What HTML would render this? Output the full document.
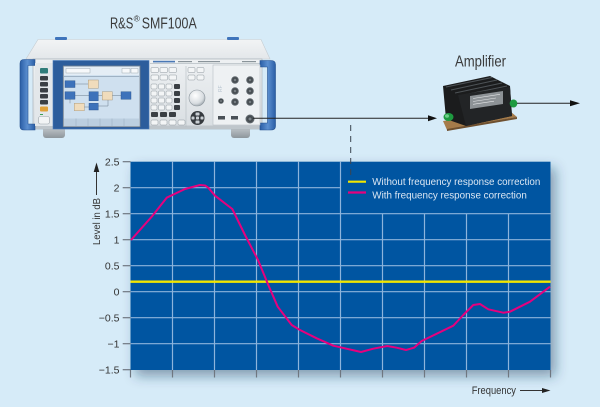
<!DOCTYPE html>
<html>
<head>
<meta charset="utf-8">
<style>
  html,body{margin:0;padding:0;background:#d6ebf8;}
  svg{display:block;}
  text{font-family:"Liberation Sans", Arial, sans-serif;}
</style>
</head>
<body>
<svg width="600" height="407" viewBox="0 0 600 407" xmlns="http://www.w3.org/2000/svg">
  <defs>
    <filter id="sh" x="-10%" y="-10%" width="125%" height="130%">
      <feDropShadow dx="5" dy="6" stdDeviation="6" flood-color="#1b3a5a" flood-opacity="0.45"/>
    </filter>
    <linearGradient id="topg" x1="0" y1="0" x2="0" y2="1">
      <stop offset="0" stop-color="#f2f4f5"/>
      <stop offset="1" stop-color="#e3e7ea"/>
    </linearGradient>
    <linearGradient id="frontg" x1="0" y1="0" x2="0" y2="1">
      <stop offset="0" stop-color="#eef1f3"/>
      <stop offset="1" stop-color="#d9dee2"/>
    </linearGradient>
    <linearGradient id="handleg" x1="0" y1="0" x2="1" y2="0">
      <stop offset="0" stop-color="#2a5ea6"/>
      <stop offset="0.5" stop-color="#5b8fd0"/>
      <stop offset="1" stop-color="#2a5ea6"/>
    </linearGradient>
    <linearGradient id="footg" x1="0" y1="0" x2="0" y2="1">
      <stop offset="0" stop-color="#c8cdd1"/>
      <stop offset="1" stop-color="#8e969c"/>
    </linearGradient>
    <radialGradient id="knobg" cx="0.4" cy="0.35" r="0.7">
      <stop offset="0" stop-color="#ffffff"/>
      <stop offset="0.7" stop-color="#d8dde1"/>
      <stop offset="1" stop-color="#9aa3aa"/>
    </radialGradient>
    <radialGradient id="conng" cx="0.5" cy="0.5" r="0.5">
      <stop offset="0" stop-color="#9aa2a8"/>
      <stop offset="0.5" stop-color="#3e4448"/>
      <stop offset="1" stop-color="#6a7278"/>
    </radialGradient>
  </defs>

  <!-- background -->
  <rect x="0" y="0" width="600" height="407" fill="#d6ebf8"/>

  <!-- Title -->
  <text x="110" y="28.3" font-size="16" fill="#3a3a3a" textLength="23.3" lengthAdjust="spacingAndGlyphs">R&amp;S</text>
  <text x="133.6" y="21.5" font-size="8.5" fill="#3a3a3a">®</text>
  <text x="141.7" y="28.3" font-size="16" fill="#3a3a3a" textLength="55" lengthAdjust="spacingAndGlyphs">SMF100A</text>

  <!-- Instrument -->
  <!-- top surface -->
  <polygon points="38,39.5 261,39.5 270,59 26,59" fill="url(#topg)" stroke="#c5ccd1" stroke-width="0.6"/>
  <rect x="55" y="37" width="12" height="3" rx="1" fill="#3f74bb"/>
  <rect x="227" y="37" width="12" height="3" rx="1" fill="#3f74bb"/>
  <!-- feet -->
  <rect x="43" y="126" width="22" height="12" rx="3" fill="url(#footg)"/>
  <rect x="231" y="126" width="19" height="12" rx="3" fill="url(#footg)"/>
  <!-- front panel -->
  <rect x="33" y="59" width="229" height="70" fill="url(#frontg)" stroke="#a9b2b8" stroke-width="0.7"/>
  <rect x="33" y="125.5" width="229" height="3.5" fill="#bfc6cb"/>
  <line x1="150" y1="63.5" x2="260" y2="63.5" stroke="#9aa4ab" stroke-width="0.6"/>
  <rect x="153" y="60.8" width="22" height="1.6" fill="#4a78b5"/>
  <rect x="178" y="61" width="14" height="1.2" fill="#8a949a"/>
  <rect x="198" y="61" width="22" height="1.2" fill="#8a949a"/>
  <rect x="242" y="61" width="14" height="1.2" fill="#8a949a"/>
  <!-- left handle -->
  <path d="M35,59.5 L24,59.5 Q20,59.5 20,63.5 L20,126 Q20,130 24,130 L35,130 L35,124 L28,124 L28,65.5 L35,65.5 Z" fill="url(#handleg)" stroke="#24508e" stroke-width="0.6"/>
  <!-- right handle -->
  <path d="M260,60.5 L271,60.5 Q275.5,60.5 275.5,64.5 L275.5,126 Q275.5,130 271,130 L260,130 L260,123 L267.5,123 L267.5,67 L260,67 Z" fill="url(#handleg)" stroke="#24508e" stroke-width="0.6"/>
  <!-- left key column -->
  <rect x="35" y="63" width="18" height="63" fill="#e3e7ea"/>
  <rect x="40" y="68" width="8" height="5.5" rx="1" fill="#2f7c7a"/>
  <rect x="40" y="76" width="8" height="4.5" rx="1" fill="#3a3f44"/>
  <rect x="40" y="82" width="8" height="4.5" rx="1" fill="#3a3f44"/>
  <rect x="40" y="88" width="8" height="4.5" rx="1" fill="#3a3f44"/>
  <rect x="40" y="94" width="8" height="4.5" rx="1" fill="#3a3f44"/>
  <rect x="40" y="100" width="8" height="4.5" rx="1" fill="#3a3f44"/>
  <rect x="40" y="106.5" width="8" height="5" rx="1" fill="#e0a23a"/>
  <rect x="38.5" y="116.5" width="11" height="7.5" rx="2" fill="#f2f4f5" stroke="#9aa3a9" stroke-width="0.6"/>
  <rect x="40" y="114" width="3" height="1" fill="#3aa055"/>
  <!-- bezel -->
  <rect x="53" y="60.5" width="96" height="68.5" fill="#2c5d9c" stroke="#4a7cbc" stroke-width="0.6"/>
  <!-- screen -->
  <rect x="63.3" y="66" width="76.7" height="60.7" fill="#cfe0ef" stroke="#77838e" stroke-width="0.8"/>
  <rect x="64" y="67" width="75" height="8" fill="#e4edf5"/>
  <rect x="66" y="68.5" width="24" height="4.5" fill="#f6f8fa" stroke="#8c98a3" stroke-width="0.4"/>
  <rect x="122" y="68.5" width="8" height="4.5" fill="#f6f8fa" stroke="#8c98a3" stroke-width="0.4"/>
  <rect x="131" y="68.5" width="7" height="4.5" fill="#f6f8fa" stroke="#8c98a3" stroke-width="0.4"/>
  <rect x="64" y="76" width="75" height="1" fill="#9fb2c4"/>
  <g stroke="#6a7c8e" stroke-width="0.5" fill="none">
    <path d="M75,84 H88 M75,95.5 H89 M98.3,95.5 H102.3 M112.3,95.5 H121 M70,99.3 V103.3 M84.3,107 H89 M98.3,106 H108 V100"/>
  </g>
  <rect x="65" y="80.7" width="10" height="6.8" fill="#3d72ba" stroke="#244f88" stroke-width="0.4"/>
  <rect x="88.3" y="80" width="10" height="8.3" fill="#f0dcbc" stroke="#a08a68" stroke-width="0.4"/>
  <rect x="65" y="91.7" width="10" height="7.6" fill="#3d72ba" stroke="#244f88" stroke-width="0.4"/>
  <rect x="89" y="91.7" width="9.3" height="9" fill="#3d72ba" stroke="#244f88" stroke-width="0.4"/>
  <rect x="102.3" y="91.7" width="10" height="8.3" fill="#f0dcbc" stroke="#a08a68" stroke-width="0.4"/>
  <rect x="121" y="91.7" width="10" height="7.6" fill="#3d72ba" stroke="#244f88" stroke-width="0.4"/>
  <rect x="74.3" y="103.3" width="10" height="7.4" fill="#f0dcbc" stroke="#a08a68" stroke-width="0.4"/>
  <rect x="89" y="103.3" width="9.3" height="6.7" fill="#3d72ba" stroke="#244f88" stroke-width="0.4"/>
  <rect x="64" y="118.5" width="75" height="7.5" fill="#bccfe0"/>
  <g stroke="#8fa2b5" stroke-width="0.4">
    <line x1="76" y1="118.5" x2="76" y2="126"/><line x1="88" y1="118.5" x2="88" y2="126"/>
    <line x1="100" y1="118.5" x2="100" y2="126"/><line x1="112" y1="118.5" x2="112" y2="126"/>
    <line x1="124" y1="118.5" x2="124" y2="126"/>
  </g>
  <!-- keypad -->
  <g fill="#f3f5f6" stroke="#8f989f" stroke-width="0.5">
    <rect x="151" y="67.5" width="7.5" height="5" rx="1"/>
    <rect x="160" y="67.5" width="7.5" height="5" rx="1"/>
    <rect x="169" y="67.5" width="7.5" height="5" rx="1"/>
    <rect x="151" y="75" width="7.5" height="5" rx="1"/>
    <rect x="160" y="75" width="7.5" height="5" rx="1"/>
    <rect x="169" y="75" width="7.5" height="5" rx="1"/>
    <rect x="151" y="84" width="6" height="5" rx="1"/>
    <rect x="158.5" y="84" width="6" height="5" rx="1"/>
    <rect x="166" y="84" width="6" height="5" rx="1"/>
    <rect x="151" y="91" width="6" height="5" rx="1"/>
    <rect x="158.5" y="91" width="6" height="5" rx="1"/>
    <rect x="166" y="91" width="6" height="5" rx="1"/>
    <rect x="151" y="98" width="6" height="5" rx="1"/>
    <rect x="158.5" y="98" width="6" height="5" rx="1"/>
    <rect x="166" y="98" width="6" height="5" rx="1"/>
    <rect x="151" y="105" width="6" height="5" rx="1"/>
    <rect x="158.5" y="105" width="6" height="5" rx="1"/>
    <rect x="166" y="105" width="6" height="5" rx="1"/>
    <rect x="151" y="120" width="7" height="5" rx="1"/>
    <rect x="160" y="120" width="7" height="5" rx="1"/>
    <rect x="169" y="120" width="7" height="5" rx="1"/>
    <rect x="178" y="120" width="7" height="5" rx="1"/>
    <rect x="188" y="67.5" width="7" height="5" rx="1"/>
    <rect x="197" y="67.5" width="7" height="5" rx="1"/>
    <rect x="188" y="75" width="7" height="5" rx="1"/>
    <rect x="197" y="75" width="7" height="5" rx="1"/>
  </g>
  <g fill="#3a3f44">
    <rect x="174" y="84" width="6" height="5" rx="1"/>
    <rect x="174" y="91" width="6" height="5" rx="1"/>
    <rect x="174" y="98" width="6" height="5" rx="1"/>
    <rect x="174" y="105" width="6" height="5" rx="1"/>
    <rect x="151" y="112" width="7" height="5" rx="1"/>
    <rect x="160" y="112" width="7" height="5" rx="1"/>
    <rect x="169" y="112" width="7" height="5" rx="1"/>
  </g>
  <line x1="186" y1="66" x2="186" y2="127" stroke="#b4bcc2" stroke-width="0.6"/>
  <!-- knob -->
  <circle cx="197" cy="98" r="8" fill="url(#knobg)" stroke="#8a949c" stroke-width="0.6"/>
  <!-- nav cluster -->
  <circle cx="197.5" cy="118" r="7" fill="#353a3f"/>
  <g fill="#c9cfd4">
    <rect x="195.5" y="112.5" width="4" height="3" rx="0.8"/>
    <rect x="195.5" y="120.5" width="4" height="3" rx="0.8"/>
    <rect x="191.5" y="116.5" width="3" height="3" rx="0.8"/>
    <rect x="200.5" y="116.5" width="3" height="3" rx="0.8"/>
    <rect x="196" y="116.5" width="3" height="3" rx="0.8"/>
  </g>
  <!-- connector panel -->
  <rect x="213" y="65" width="47" height="60" fill="#eef1f3" stroke="#b7bfc5" stroke-width="0.6"/>
  <text x="222" y="92" font-size="5" fill="#b7c3cf" transform="rotate(-90 222 92)">RF</text>
  <circle cx="235" cy="80" r="3.8" fill="url(#conng)"/>
  <circle cx="250" cy="80" r="3.8" fill="url(#conng)"/>
  <circle cx="235" cy="91" r="3.8" fill="url(#conng)"/>
  <circle cx="250" cy="91" r="3.8" fill="url(#conng)"/>
  <circle cx="235" cy="102" r="3.8" fill="url(#conng)"/>
  <circle cx="250" cy="102" r="3.8" fill="url(#conng)"/>
  <circle cx="221" cy="101" r="2.8" fill="url(#conng)"/>
  <rect x="218" y="116" width="7" height="3.5" fill="#4a5056"/>
  <rect x="231" y="116" width="7" height="3.5" fill="#4a5056"/>
  <circle cx="250" cy="119" r="4.5" fill="url(#conng)"/>

  <!-- cable to amplifier -->
  <line x1="253" y1="118.3" x2="430" y2="118.3" stroke="#222" stroke-width="1"/>
  <polygon points="428,115.3 437,118.3 428,121.3" fill="#111"/>

  <!-- Amplifier label -->
  <text x="455" y="66.5" font-size="16" fill="#3a3a3a" textLength="51" lengthAdjust="spacingAndGlyphs">Amplifier</text>

  <!-- Amplifier -->
  <polygon points="443,121 511,112 517,117 447,130" fill="#a57b4a"/>
  <polygon points="447,129 517,117 517,119 447,131" fill="#6e5030"/>
  <polygon points="443,86 490,76 510,86 512,116 466,126 446,119" fill="#1b1c1d"/>
  <g stroke="#4d5256" stroke-width="1" fill="none">
    <polyline points="446,87 492,77.5"/>
    <polyline points="451,90 497,80"/>
    <polyline points="455,93 502,83"/>
    <polyline points="459,96 507,86"/>
  </g>
  <polygon points="458,95 510,87 512,116 466,126" fill="#222426"/>
  <polygon points="470,96 503,91 503,104 470,109" fill="#8d9296"/>
  <g stroke="#e4e6e8" stroke-width="0.6">
    <line x1="473" y1="98.5" x2="500" y2="94.3"/>
    <line x1="473" y1="101.5" x2="496" y2="98"/>
    <line x1="473" y1="104.3" x2="494" y2="101.2"/>
  </g>
  <ellipse cx="448.5" cy="117" rx="5" ry="4" fill="#1e9a40"/>
  <ellipse cx="447" cy="116" rx="2" ry="1.8" fill="#6fd08a"/>
  <ellipse cx="513.5" cy="103.5" rx="3.8" ry="4" fill="#1e9a40"/>

  <!-- output line -->
  <line x1="517" y1="103.3" x2="572" y2="103.3" stroke="#222" stroke-width="1"/>
  <polygon points="570,100.3 580,103.3 570,106.3" fill="#111"/>

  <!-- Chart -->
  <rect x="130.5" y="161.7" width="420" height="208.3" fill="#0055a1" filter="url(#sh)"/>
  <!-- horizontal grid -->
  <g stroke="#8db4dc" stroke-width="1.2">
    <line x1="130.5" y1="187.7" x2="341" y2="187.7"/>
    <line x1="130.5" y1="213.7" x2="550.5" y2="213.7"/>
    <line x1="130.5" y1="239.7" x2="550.5" y2="239.7"/>
    <line x1="130.5" y1="265.7" x2="550.5" y2="265.7"/>
    <line x1="130.5" y1="291.7" x2="550.5" y2="291.7"/>
    <line x1="130.5" y1="317.7" x2="550.5" y2="317.7"/>
    <line x1="130.5" y1="343.7" x2="550.5" y2="343.7"/>
  </g>
  <!-- vertical grid -->
  <g stroke="#8db4dc" stroke-width="1.2">
    <line x1="172.5" y1="161.7" x2="172.5" y2="370"/>
    <line x1="214.5" y1="161.7" x2="214.5" y2="370"/>
    <line x1="256.5" y1="161.7" x2="256.5" y2="370"/>
    <line x1="298.5" y1="161.7" x2="298.5" y2="370"/>
    <line x1="340.5" y1="161.7" x2="340.5" y2="370"/>
    <line x1="382.5" y1="213.7" x2="382.5" y2="370"/>
    <line x1="424.5" y1="213.7" x2="424.5" y2="370"/>
    <line x1="466.5" y1="213.7" x2="466.5" y2="370"/>
    <line x1="508.5" y1="213.7" x2="508.5" y2="370"/>
  </g>

  <!-- ticks -->
  <g stroke="#6f7780" stroke-width="1.2">
    <line x1="130.5" y1="370" x2="130.5" y2="377.5"/>
    <line x1="172.5" y1="370" x2="172.5" y2="377.5"/>
    <line x1="214.5" y1="370" x2="214.5" y2="377.5"/>
    <line x1="256.5" y1="370" x2="256.5" y2="377.5"/>
    <line x1="298.5" y1="370" x2="298.5" y2="377.5"/>
    <line x1="340.5" y1="370" x2="340.5" y2="377.5"/>
    <line x1="382.5" y1="370" x2="382.5" y2="377.5"/>
    <line x1="424.5" y1="370" x2="424.5" y2="377.5"/>
    <line x1="466.5" y1="370" x2="466.5" y2="377.5"/>
    <line x1="508.5" y1="370" x2="508.5" y2="377.5"/>
    <line x1="550.5" y1="370" x2="550.5" y2="377.5"/>
    <line x1="122.7" y1="161.7" x2="130.5" y2="161.7"/>
    <line x1="122.7" y1="187.7" x2="130.5" y2="187.7"/>
    <line x1="122.7" y1="213.7" x2="130.5" y2="213.7"/>
    <line x1="122.7" y1="239.7" x2="130.5" y2="239.7"/>
    <line x1="122.7" y1="265.7" x2="130.5" y2="265.7"/>
    <line x1="122.7" y1="291.7" x2="130.5" y2="291.7"/>
    <line x1="122.7" y1="317.7" x2="130.5" y2="317.7"/>
    <line x1="122.7" y1="343.7" x2="130.5" y2="343.7"/>
    <line x1="122.7" y1="369.7" x2="130.5" y2="369.7"/>
  </g>

  <!-- y tick labels -->
  <g font-size="10.5" fill="#333" text-anchor="end">
    <text x="119.5" y="165.5">2.5</text>
    <text x="119.5" y="191.5">2</text>
    <text x="119.5" y="217.5">1.5</text>
    <text x="119.5" y="243.5">1</text>
    <text x="119.5" y="269.5">0.5</text>
    <text x="119.5" y="295.5">0</text>
    <text x="119.5" y="321.5">−0.5</text>
    <text x="119.5" y="347.5">−1</text>
    <text x="119.5" y="373.5">−1.5</text>
  </g>

  <!-- y axis title -->
  <text x="0" y="0" font-size="10.5" fill="#333" textLength="47" lengthAdjust="spacingAndGlyphs" transform="translate(100,245) rotate(-90)">Level in dB</text>
  <line x1="96.5" y1="195" x2="96.5" y2="170" stroke="#333" stroke-width="1"/>
  <polygon points="93.7,172 96.5,162.5 99.3,172" fill="#222"/>

  <!-- x axis title -->
  <text x="471.7" y="393.8" font-size="11" fill="#333" textLength="44.3" lengthAdjust="spacingAndGlyphs">Frequency</text>
  <line x1="520" y1="390.5" x2="544" y2="390.5" stroke="#333" stroke-width="1"/>
  <polygon points="542,388 550.5,390.5 542,393" fill="#222"/>

  <!-- dashed vertical line -->
  <line x1="350.7" y1="125" x2="350.7" y2="179" stroke="#3a4450" stroke-width="1" stroke-dasharray="6,5"/>

  <!-- legend -->
  <line x1="348" y1="181.7" x2="366" y2="181.7" stroke="#f2e600" stroke-width="2.2"/>
  <line x1="348" y1="192.5" x2="366" y2="192.5" stroke="#e6007e" stroke-width="2.2"/>
  <text x="372.3" y="185" font-size="10.5" fill="#dbe7f3" textLength="168" lengthAdjust="spacingAndGlyphs">Without frequency response correction</text>
  <text x="372.3" y="198.5" font-size="10.5" fill="#dbe7f3" textLength="154.5" lengthAdjust="spacingAndGlyphs">With frequency response correction</text>

  <!-- series -->
  <line x1="130.5" y1="281.7" x2="550.5" y2="281.7" stroke="#f2e600" stroke-width="2.3"/>
  <polyline fill="none" stroke="#e6007e" stroke-width="2" stroke-linejoin="round" points="
    131,240 151.7,216.7 166.7,197.7 185,189 200,185 205,185.5 208.3,187.7 215,195.7
    232.3,209 245,235 258,260 268.3,285 277.7,306.7 291.7,325 300,330 316.7,338.3
    333.3,345.7 361,352 373.3,348.7 387.3,346 396.7,347.7 406,350 414,347.7 421.7,341
    453.3,325.7 463.3,315 473.3,305 480,304 488.3,309.3 503.3,312.7 510,311.7 530,301.7 550,286.7"/>
</svg>
</body>
</html>
